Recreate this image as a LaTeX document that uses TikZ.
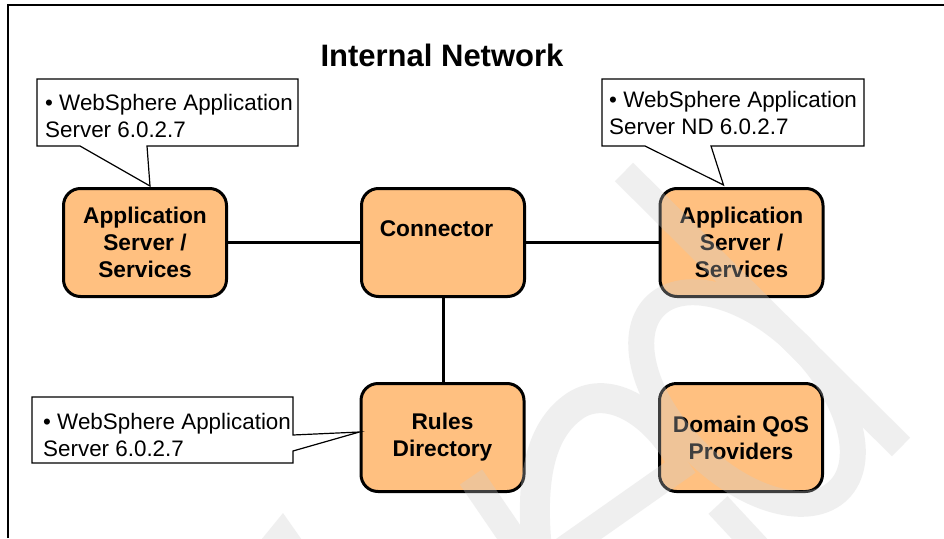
\documentclass[tikz,border=0pt]{standalone}
\usepackage{fontspec}
\setmainfont{Liberation Sans}
\usetikzlibrary{calc}
\definecolor{boxfill}{RGB}{255,192,128}
\definecolor{wmgray}{RGB}{206,206,206}
\tikzset{
  unitbox/.style={draw=black, line width=3pt, fill=boxfill, rounded corners=17pt,
    minimum width=163pt, minimum height=108pt, align=center, inner sep=0pt,
    font=\fontsize{22.7}{27}\selectfont\bfseries},
  link/.style={line width=3pt},
  calltext/.style={align=left, inner sep=0pt, anchor=west, font=\fontsize{22.4}{27}\selectfont},
  callframe/.style={draw=black, fill=white, line width=1.2pt, line join=miter},
  frameline/.style={line width=1.2pt},
  wm/.style={draw=wmgray, line width=26pt},
  titletext/.style={font=\fontsize{31}{36}\selectfont\bfseries, inner sep=0pt}
}
\begin{document}
\begin{tikzpicture}[x=1pt,y=-1pt]
\useasboundingbox (0,0) rectangle (944,538);
\fill[white] (0,0) rectangle (944,538);
\draw[frameline] (8,538) -- (8,5) -- (944,5);

\node[titletext] (title) at (442,55) {Internal Network};

% boxes
\node[unitbox] (app1) at (145,242.5) {Application\\Server /\\Services};
\node[unitbox] (conn) at (443,242.5) {Connector\hspace*{13pt}\\\mbox{}};
\node[unitbox] (app2) at (741.5,242.5) {Application\\Server /\\Services};
\node[unitbox] (rules) at (442.5,437.5) {Rules\\Directory};
\node[unitbox] (qos) at (741,437.5) {Domain QoS\\Providers};

% connectors
\draw[link] (app1.east) -- (conn.west);
\draw[link] (conn.east) -- (app2.west);
\draw[link] (conn.south) -- (conn.south |- rules.north);

% callout tips
\coordinate (tip1) at ($(app1.north west)+(88,-1)$);
\coordinate (tip2) at ($(app2.north west)+(65,-2)$);
\coordinate (tip3) at ($(rules.north west)+(0,50)$);

% callouts
\draw[callframe] (37,79) -- (298,79) -- (298,146) -- (147,146) -- (tip1) -- (80,146) -- (37,146) -- cycle;
\node[calltext] (c1) at (45,115.5) {\textbullet\ WebSphere Application\\Server 6.0.2.7};

\draw[callframe] (602,79) -- (864,79) -- (864,146) -- (711,146) -- (tip2) -- (645,146) -- (602,146) -- cycle;
\node[calltext] (c2) at (609,113) {\textbullet\ WebSphere Application\\Server ND 6.0.2.7};

\draw[callframe] (32,397) -- (293,397) -- (293,435) -- (tip3) -- (293,451) -- (293,463) -- (32,463) -- cycle;
\node[calltext] (c3) at (43,434.5) {\textbullet\ WebSphere Application\\Server 6.0.2.7};

% watermark
\begin{scope}[transparency group, opacity=0.31]
  \clip (0,0) rectangle (944,538);
  \draw[wm] (624,172) -- (901,447);
  \draw[wm, rotate around={-45:(747,398)}] (747,398) ellipse [x radius=130pt, y radius=74pt];
  \draw[wm, line width=30pt] (682,462) .. controls (655,410) and (605,382) .. (572,408)
        .. controls (540,432) and (530,480) .. (537,550);
  \draw[wm] (560,552) -- (688,462);
  \draw[wm] (718,505) -- (758,548);
  \draw[wm, line width=27pt] (471,477) -- (525,556);
  \fill[wmgray] (283,513) -- (302,540) -- (261,540) -- cycle;
\end{scope}
\end{tikzpicture}
\end{document}
